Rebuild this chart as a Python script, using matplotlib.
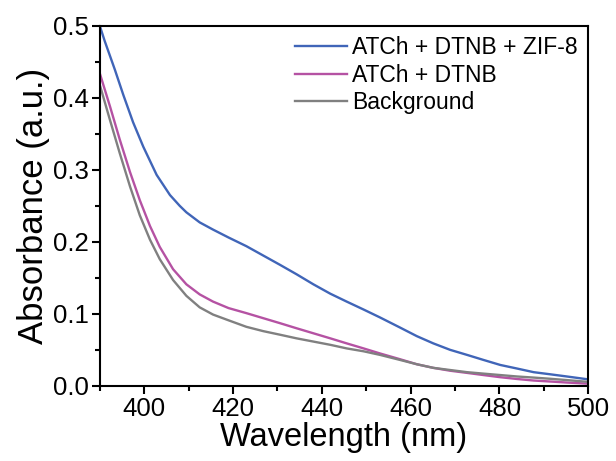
import numpy as np
import matplotlib
matplotlib.use("Agg")
import matplotlib.pyplot as plt
from matplotlib.ticker import MultipleLocator

plt.rcParams['font.family'] = ['Liberation Sans', 'DejaVu Sans']

# Data
wl_blue = [390, 391.1, 393.4, 395.3, 397.5, 399.8, 402.8, 405.8, 408, 409.5, 412.5, 415.5, 419,
           423, 426.8, 430.6, 434.3, 438.1, 441.9, 445.6, 449.4, 453.1, 457.6, 461.4, 465.1,
           468.9, 472.7, 476.4, 480.2, 484, 487.7, 491.5, 495.2, 500]
abs_blue = [0.500, 0.479, 0.439, 0.404, 0.366, 0.332, 0.293, 0.265, 0.250, 0.241, 0.227, 0.217, 0.206,
            0.194, 0.181, 0.168, 0.155, 0.141, 0.128, 0.117, 0.106, 0.095, 0.081, 0.069, 0.059,
            0.050, 0.043, 0.036, 0.029, 0.024, 0.019, 0.016, 0.013, 0.009]

wl_mag = [390, 392.3, 394.5, 396.8, 399, 401.3, 403.5, 406.5, 409.5, 412.5, 415.5, 419,
          423, 426.8, 430.6, 434.3, 438.1, 441.9, 445.6, 449.4, 453.1, 457.6, 461.4, 465.1,
          468.9, 472.7, 476.4, 480.2, 484, 487.7, 491.5, 495.2, 500]
abs_mag = [0.434, 0.388, 0.342, 0.297, 0.258, 0.222, 0.193, 0.162, 0.141, 0.127, 0.117, 0.108,
           0.101, 0.094, 0.087, 0.080, 0.073, 0.066, 0.059, 0.052, 0.045, 0.037, 0.030, 0.025,
           0.021, 0.018, 0.015, 0.012, 0.0095, 0.0074, 0.006, 0.0046, 0.003]

wl_gray = [390, 392.3, 394.5, 396.8, 399, 401.3, 403.5, 406.5, 409.5, 412.5, 415.5, 419,
           423, 426.8, 430.6, 434.3, 438.1, 441.9, 445.6, 449.4, 453.1, 457.6, 461.4, 465.1,
           468.9, 472.7, 476.4, 480.2, 484, 487.7, 491.5, 495.2, 500]
abs_gray = [0.418, 0.369, 0.323, 0.277, 0.237, 0.203, 0.176, 0.147, 0.125, 0.109, 0.099, 0.091,
            0.082, 0.076, 0.071, 0.066, 0.0615, 0.057, 0.052, 0.048, 0.043, 0.036, 0.030, 0.025,
            0.022, 0.019, 0.017, 0.015, 0.013, 0.0115, 0.0098, 0.008, 0.0055]

labels = ["ATCh + DTNB + ZIF-8", "ATCh + DTNB", "Background"]
colors = ["#4065B8", "#B552A3", "#808080"]
xticks = [400, 420, 440, 460, 480, 500]
yticks = [0.0, 0.1, 0.2, 0.3, 0.4, 0.5]

fig = plt.figure(figsize=(6.16, 4.61), dpi=100)
ax = fig.add_axes([0.162, 0.163, 0.793, 0.781])

ax.plot(wl_blue, abs_blue, color=colors[0], lw=1.7, label=labels[0])
ax.plot(wl_mag, abs_mag, color=colors[1], lw=1.7, label=labels[1])
ax.plot(wl_gray, abs_gray, color=colors[2], lw=1.7, label=labels[2])

ax.set_xlim(390, 500)
ax.set_ylim(0, 0.5)
ax.set_xticks(xticks)
ax.set_xticklabels([str(v) for v in xticks])
ax.set_yticks(yticks)
ax.set_yticklabels([f"{v:.1f}" for v in yticks])
ax.xaxis.set_minor_locator(MultipleLocator(10))
ax.yaxis.set_minor_locator(MultipleLocator(0.05))

for s in ax.spines.values():
    s.set_linewidth(1.5)
ax.tick_params(axis='both', which='major', direction='out', length=6, width=1.5,
               labelsize=18.5, pad=2)
ax.tick_params(axis='both', which='minor', direction='out', length=3.5, width=1.5)

ax.set_xlabel("Wavelength (nm)", fontsize=23.5, labelpad=1)
ax.set_ylabel("Absorbance (a.u.)", fontsize=25, labelpad=2)

leg = ax.legend(loc='upper right', frameon=False, fontsize=16.5, handlelength=2.25,
                handletextpad=0.25, labelspacing=0.2, borderaxespad=0.05)

fig.savefig("out.png", dpi=100)
